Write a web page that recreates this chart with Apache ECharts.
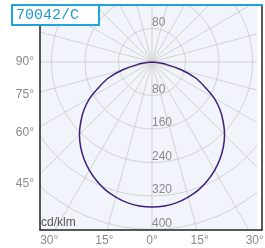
<!DOCTYPE html>
<html lang="en">
<head>
<meta charset="UTF-8">
<title>70042/C</title>
<script src="https://cdn.jsdelivr.net/npm/echarts@6/dist/echarts.min.js"></script>
<style>
  html, body { margin: 0; padding: 0; background: #fff; }
  #chart { width: 265px; height: 248px; }
</style>
</head>
<body>
<div id="chart"></div>
<script>
// intensity (cd/klm) against gamma angle (mirrored both sides)
const gammaDeg  = [0, 5, 10, 15, 20, 25, 30, 35, 40, 45, 50, 55, 60, 65, 70, 75, 80, 85, 90];
const intensity = [346, 345, 341, 334, 325, 313, 299, 283, 265, 245, 222, 198, 171, 138, 110, 72, 36, 8, 0];

const radialLabels = [80, 160, 240, 320, 400];
const upperLabels = [80];
const leftAngles = [90, 75, 60, 45];
const bottomAngles = [-30, -15, 0, 15, 30];

// layout, px
const W = 265, H = 248;
const CX = 152, CY = 62;
const PX_PER_CD = 33.5 / 80;
const PLOT = { left: 40, top: 5, right: 262, bottom: 230, fillRight: 257 };
const LEFT_LABEL_X = 30, BOTTOM_LABEL_Y = 240;
const RMAX = 560;

const GRID_GREY = '#d2d2d2';
const LABEL_GREY = '#8a8a8a';
const toRad = d => d * Math.PI / 180;
const toDeg = r => r * 180 / Math.PI;

// polar line data: right half first, then left half
const curve = [];
for (let i = gammaDeg.length - 1; i > 0; i--) curve.push([intensity[i], 360 - gammaDeg[i]]);
for (let i = 0; i < gammaDeg.length; i++) curve.push([intensity[i], gammaDeg[i]]);

// frame axes in cd units, centred on the lamp
const xMin = (PLOT.left - CX) / PX_PER_CD, xMax = (PLOT.right - CX) / PX_PER_CD;
const yMin = -(PLOT.bottom - CY) / PX_PER_CD, yMax = (CY - PLOT.top) / PX_PER_CD;
const bottomVals = bottomAngles.map(a => (BOTTOM_LABEL_Y - CY) * Math.tan(toRad(a)) / PX_PER_CD);
const leftVals = leftAngles.map(a => -(CX - LEFT_LABEL_X) / Math.tan(toRad(a)) / PX_PER_CD);

const chart = echarts.init(document.getElementById('chart'));

const hiddenAxisBits = { axisTick: { show: false }, splitLine: { show: false } };

chart.setOption({
    backgroundColor: '#f1f4fa',
    animation: false,
    title: [{
        text: '70042/C',
        left: 12, top: 5,
        padding: [3, 20, 2, 4],
        borderColor: '#1ea3df', borderWidth: 2, backgroundColor: '#fff',
        textStyle: { fontFamily: 'Liberation Mono', fontSize: 15, fontWeight: 'normal', color: '#1b9bd8' },
        z: 20
    }, {
        text: 'cd/klm',
        left: 41, top: 217,
        padding: 0,
        textStyle: { fontFamily: 'Liberation Sans', fontSize: 12, fontWeight: 'normal', color: '#555' },
        z: 20
    }],
    polar: [
        { center: [CX, CY], radius: RMAX * PX_PER_CD },
        { center: [CX, CY], radius: RMAX * PX_PER_CD }
    ],
    angleAxis: [{
        polarIndex: 0, type: 'value', min: 0, max: 360, interval: 15, startAngle: 270,
        axisLine: { show: false }, axisTick: { show: false }, axisLabel: { show: false },
        splitLine: { show: true, lineStyle: { color: GRID_GREY, width: 1 } }
    }, {
        polarIndex: 1, type: 'value', min: 0, max: 360, interval: 15, startAngle: 90,
        axisLine: { show: false }, axisTick: { show: false }, axisLabel: { show: false },
        splitLine: { show: false }
    }],
    radiusAxis: [{
        polarIndex: 0, type: 'value', min: 0, max: RMAX, interval: 80,
        axisLine: { show: false }, axisTick: { show: false },
        splitLine: { show: true, lineStyle: { color: GRID_GREY, width: 1 } },
        axisLabel: {
            margin: 0, align: 'left', verticalAlign: 'bottom',
            fontFamily: 'Liberation Sans', fontSize: 12, color: LABEL_GREY,
            formatter: v => radialLabels.includes(v) ? String(v) : ''
        }
    }, {
        polarIndex: 1, type: 'value', min: 0, max: RMAX, interval: 80,
        axisLine: { show: false }, axisTick: { show: false }, splitLine: { show: false },
        axisLabel: {
            margin: 0, align: 'left', verticalAlign: 'bottom',
            fontFamily: 'Liberation Sans', fontSize: 12, color: LABEL_GREY,
            formatter: v => upperLabels.includes(v) ? String(v) : ''
        }
    }],
    grid: {
        left: PLOT.left, top: PLOT.top, right: W - PLOT.right, bottom: H - PLOT.bottom,
        containLabel: false, outerBoundsMode: 'none'
    },
    xAxis: [{
        type: 'value', position: 'bottom', min: xMin, max: xMax, z: 10, ...hiddenAxisBits,
        axisLine: { show: true, onZero: false, lineStyle: { color: '#222', width: 1.5 } },
        axisLabel: {
            customValues: bottomVals, margin: 5,
            fontFamily: 'Liberation Sans', fontSize: 12, color: LABEL_GREY,
            formatter: v => Math.round(Math.abs(toDeg(Math.atan(v * PX_PER_CD / (BOTTOM_LABEL_Y - CY))))) + '°'
        }
    }, {
        type: 'value', position: 'top', min: xMin, max: xMax, z: 10, ...hiddenAxisBits,
        axisLine: { show: true, onZero: false, lineStyle: { color: '#1ea3df', width: 2 } },
        axisLabel: { show: false }
    }],
    yAxis: [{
        type: 'value', position: 'left', min: yMin, max: yMax, z: 10, ...hiddenAxisBits,
        axisLine: { show: true, onZero: false, lineStyle: { color: '#222', width: 1.5 } },
        axisLabel: {
            customValues: leftVals, margin: 6,
            fontFamily: 'Liberation Sans', fontSize: 12, color: LABEL_GREY,
            formatter: v => Math.round(toDeg(Math.atan2(CX - LEFT_LABEL_X, -v * PX_PER_CD))) + '°'
        }
    }, {
        type: 'value', position: 'right', min: yMin, max: yMax, z: 10, ...hiddenAxisBits,
        axisLine: { show: true, onZero: false, lineStyle: { color: '#222', width: 1.5 } },
        axisLabel: { show: false }
    }],
    graphic: {
        elements: [
            { type: 'rect', silent: true, z: 5, shape: { x: 0, y: 0, width: PLOT.left, height: H }, style: { fill: '#fff' } },
            { type: 'rect', silent: true, z: 5, shape: { x: PLOT.fillRight, y: 0, width: W - PLOT.fillRight, height: H }, style: { fill: '#fff' } },
            { type: 'rect', silent: true, z: 5, shape: { x: 0, y: 0, width: W, height: PLOT.top }, style: { fill: '#fff' } },
            { type: 'rect', silent: true, z: 5, shape: { x: 0, y: PLOT.bottom, width: W, height: H - PLOT.bottom }, style: { fill: '#fff' } }
        ]
    },
    series: [{
        type: 'line',
        coordinateSystem: 'polar',
        polarIndex: 0,
        data: curve,
        showSymbol: false,
        smooth: 0.3,
        lineStyle: { color: '#3f1f7c', width: 1.5 },
        z: 3
    }]
});
</script>
</body>
</html>
